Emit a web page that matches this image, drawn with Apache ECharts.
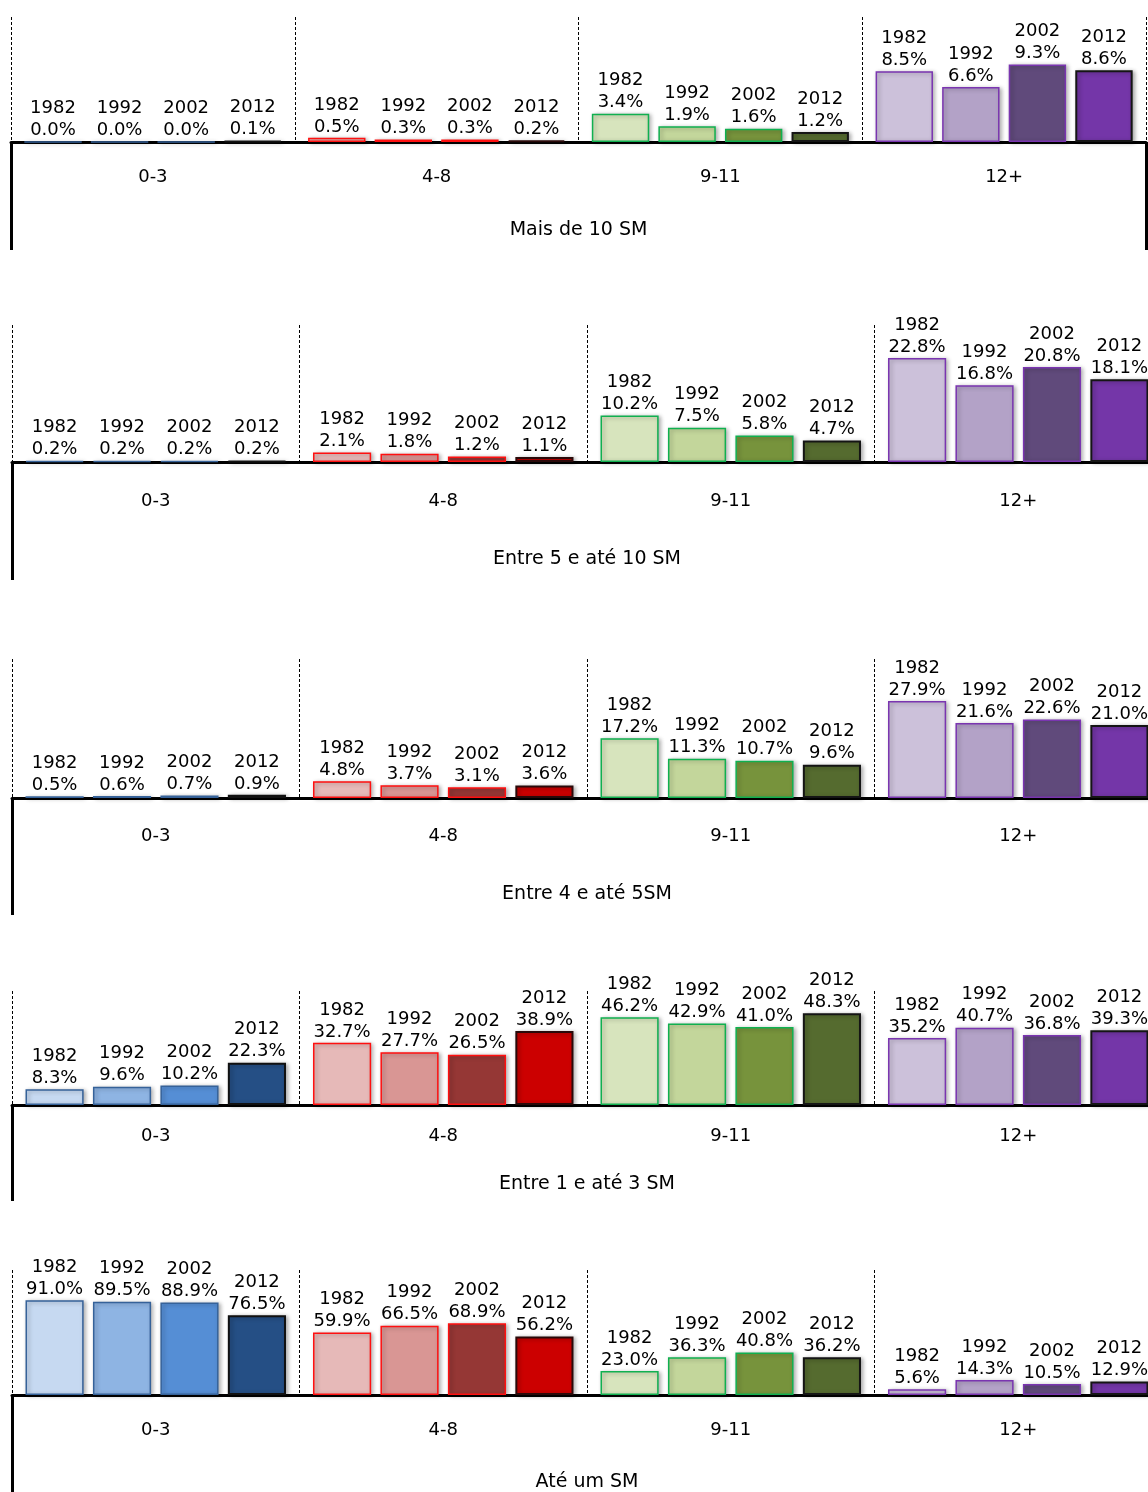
<!DOCTYPE html>
<html>
<head>
<meta charset="utf-8">
<style>
  html, body { margin: 0; padding: 0; background: #fff; overflow: hidden; }
  #chart { width: 1170px; height: 1492px; }
</style>
<script src="https://cdn.jsdelivr.net/npm/echarts@6/dist/echarts.min.js"></script>
</head>
<body>
<div id="chart"></div>
<script>
// Categories
const years = ['1982', '1992', '2002', '2012'];
const groups = ['0-3', '4-8', '9-11', '12+'];
const panelTitles = ['Mais de 10 SM', 'Entre 5 e até 10 SM', 'Entre 4 e até 5SM', 'Entre 1 e até 3 SM', 'Até um SM'];

// Shares (%) per schooling group, in year order 1982, 1992, 2002, 2012
const maisDe10 = [0.0, 0.0, 0.0, 0.1,  0.5, 0.3, 0.3, 0.2,  3.4, 1.9, 1.6, 1.2,  8.5, 6.6, 9.3, 8.6];
const entre5e10 = [0.2, 0.2, 0.2, 0.2,  2.1, 1.8, 1.2, 1.1,  10.2, 7.5, 5.8, 4.7,  22.8, 16.8, 20.8, 18.1];
const entre4e5 = [0.5, 0.6, 0.7, 0.9,  4.8, 3.7, 3.1, 3.6,  17.2, 11.3, 10.7, 9.6,  27.9, 21.6, 22.6, 21.0];
const entre1e3 = [8.3, 9.6, 10.2, 22.3,  32.7, 27.7, 26.5, 38.9,  46.2, 42.9, 41.0, 48.3,  35.2, 40.7, 36.8, 39.3];
const ateUm = [91.0, 89.5, 88.9, 76.5,  59.9, 66.5, 68.9, 56.2,  23.0, 36.3, 40.8, 36.2,  5.6, 14.3, 10.5, 12.9];

const panelValues = [maisDe10, entre5e10, entre4e5, entre1e3, ateUm];
const axisMax = [15, 30, 40, 60, 120];

// Fill / border colours by schooling group and year
const fills = [
  ['#C6D9F1', '#8EB4E3', '#558ED5', '#254F85'],
  ['#E6B9B8', '#D99694', '#953735', '#CC0000'],
  ['#D7E4BD', '#C3D69B', '#77933C', '#556B2F'],
  ['#CCC1DA', '#B3A2C7', '#604A7B', '#7436A8']
];
const borders = [
  ['#366299', '#366299', '#366299', '#111111'],
  ['#FF1010', '#FF1010', '#FF1010', '#2A0A0A'],
  ['#10B050', '#10B050', '#10B050', '#151515'],
  ['#7A35B0', '#7A35B0', '#7A35B0', '#151515']
];

// Panel geometry (the lower four panels run slightly past the visible right edge)
const layout = [
  { left: 11, width: 1135, top: 17,   base: 142,  catOff: 35, titleOff: 88, edge: 108 },
  { left: 12, width: 1150, top: 325,  base: 462,  catOff: 39, titleOff: 97, edge: 118 },
  { left: 12, width: 1150, top: 659,  base: 798,  catOff: 38, titleOff: 96, edge: 117 },
  { left: 12, width: 1150, top: 991,  base: 1105, catOff: 31, titleOff: 79, edge: 96 },
  { left: 12, width: 1150, top: 1270, base: 1396, catOff: 35, titleOff: 87, edge: 110 }
];

const FONT = "'DejaVu Sans', 'Liberation Sans', Arial, sans-serif";

const grid = [], xAxis = [], yAxis = [], series = [];

layout.forEach((L, i) => {
  grid.push({ left: L.left, width: L.width, top: L.top, height: L.base - L.top, containLabel: false });

  // schooling-group axis: baseline, group labels and dashed separators
  xAxis.push({
    type: 'category', gridIndex: i, data: groups, position: 'bottom',
    axisLine: { show: true, lineStyle: { color: '#000', width: 3 } },
    axisTick: { show: false },
    axisLabel: { show: true, margin: L.catOff - 9, color: '#000', fontSize: 18, fontFamily: FONT, lineHeight: 18 },
    splitLine: { show: true, lineStyle: { color: '#000', width: 1, type: [3, 2] } }
  });
  // income-band axis: panel title and edge lines
  xAxis.push({
    type: 'category', gridIndex: i, data: [panelTitles[i]], position: 'bottom',
    axisLine: { show: false },
    axisTick: { show: true, inside: false, length: L.edge, lineStyle: { color: '#000', width: 3, cap: 'butt' } },
    axisLabel: { show: true, margin: L.titleOff - 10, color: '#000', fontSize: 19, fontFamily: FONT, lineHeight: 20 },
    splitLine: { show: false }
  });

  yAxis.push({ type: 'value', gridIndex: i, min: 0, max: axisMax[i], show: false, splitLine: { show: false } });

  const vals = panelValues[i];
  years.forEach((yr, j) => {
    series.push({
      type: 'bar',
      name: yr,
      xAxisIndex: i * 2,
      yAxisIndex: i,
      barGap: '16%',
      barCategoryGap: '9.4%',
      data: groups.map((g, gi) => ({
        value: vals[gi * 4 + j],
        itemStyle: {
          color: fills[gi][j],
          borderColor: borders[gi][j],
          borderWidth: j === 3 ? 2 : 1.5,
          shadowColor: 'rgba(0,0,0,0.3)',
          shadowBlur: 4,
          shadowOffsetX: 2,
          shadowOffsetY: 1
        }
      })),
      label: {
        show: true,
        position: 'top',
        distance: 0,
        color: '#000',
        fontSize: 18,
        lineHeight: 22,
        fontFamily: FONT,
        formatter: p => p.seriesName + '\n' + p.value.toFixed(1) + '%'
      },
      animation: false
    });
  });
});

const chart = echarts.init(document.getElementById('chart'), null, { renderer: 'canvas' });
chart.setOption({
  backgroundColor: '#fff',
  animation: false,
  grid, xAxis, yAxis, series
});
</script>
</body>
</html>
